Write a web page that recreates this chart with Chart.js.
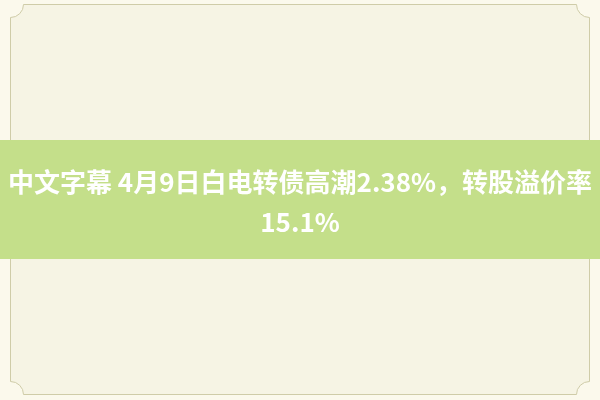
<!DOCTYPE html>
<html>
<head>
<meta charset="utf-8">
<script src="https://cdn.jsdelivr.net/npm/chart.js@4"></script>
<style>
  body { margin: 0; background: #fbf9ec; }
  canvas { display: block; }
</style>
</head>
<body>
<canvas id="headline" width="600" height="400"></canvas>
<script>
// Headline text (two lines on the green band)
const titleLines = ['中文字幕 4月9日白电转债高潮2.38%，转股溢价率', '15.1%'];
const categories = [];
const seriesValues = [];

document.addEventListener("DOMContentLoaded", function() {
    // background, frame and green band
    const backdrop = {
        id: 'backdrop',
        beforeDraw(chart) {
            const c = chart.ctx;
            const w = chart.width, h = chart.height;
            c.save();
            c.fillStyle = '#fbf9ec';
            c.fillRect(0, 0, w, h);

            // inner panel with notched corners
            const l = 10.5, t = 4.5, r = w - 10.5, b = h - 5.5, n = 13;
            c.beginPath();
            c.moveTo(l + n, t);
            c.lineTo(r - n, t);
            c.arc(r, t, n, Math.PI, Math.PI / 2, true);
            c.lineTo(r, b - n);
            c.arc(r, b, n, -Math.PI / 2, Math.PI, true);
            c.lineTo(l + n, b);
            c.arc(l, b, n, 0, -Math.PI / 2, true);
            c.lineTo(l, t + n);
            c.arc(l, t, n, Math.PI / 2, 0, true);
            c.closePath();
            c.fillStyle = '#f6f4e4';
            c.fill();
            c.strokeStyle = '#cfcca8';
            c.lineWidth = 1;
            c.stroke();

            // green band
            c.fillStyle = '#c4df8a';
            c.fillRect(0, 140, w, 119);
            c.restore();
        }
    };

    const ctx = document.getElementById('headline').getContext('2d');
    const headline = new Chart(ctx, {
        type: 'bar',
        data: {
            labels: categories,
            datasets: [{ data: seriesValues }]
        },
        options: {
            responsive: false,
            animation: false,
            layout: { padding: 0 },
            scales: {
                x: { display: false },
                y: { display: false }
            },
            plugins: {
                legend: { display: false },
                tooltip: { enabled: false },
                title: {
                    display: true,
                    text: titleLines,
                    color: '#ffffff',
                    align: 'center',
                    padding: { top: 162, bottom: 0 },
                    font: {
                        family: '"Noto Sans CJK SC", "Noto Sans", sans-serif',
                        size: 26,
                        weight: 'bold',
                        lineHeight: 40 / 26
                    }
                }
            }
        },
        plugins: [backdrop]
    });
});
</script>
</body>
</html>
